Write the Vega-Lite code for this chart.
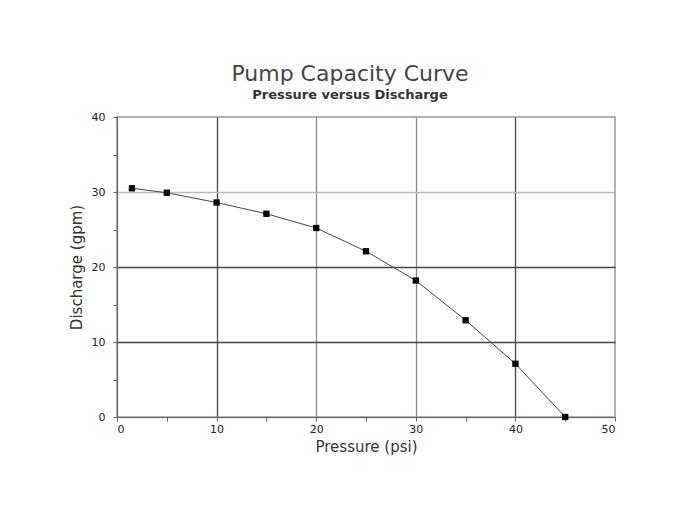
{
  "$schema": "https://vega.github.io/schema/vega-lite/v6.json",
  "autosize": "none",
  "width": 498,
  "height": 300,
  "padding": {"left": 117, "top": 117, "right": 71, "bottom": 99},
  "background": "white",
  "config": {
    "view": {"stroke": "#999", "strokeWidth": 1.5},
    "font": "DejaVu Sans"
  },
  "title": {
    "text": "Pump Capacity Curve",
    "subtitle": "Pressure versus Discharge",
    "anchor": "middle",
    "dx": -16,
    "offset": 8,
    "fontSize": 22,
    "fontWeight": "normal",
    "font": "DejaVu Sans",
    "color": "#444",
    "subtitleFontSize": 13,
    "subtitleFontWeight": "bold",
    "subtitleFont": "DejaVu Sans",
    "subtitleColor": "#333",
    "subtitlePadding": 3
  },
  "data": {
    "values": [
      {"pressure": 1.5, "discharge": 30.5},
      {"pressure": 5, "discharge": 29.9},
      {"pressure": 10, "discharge": 28.6},
      {"pressure": 15, "discharge": 27.1},
      {"pressure": 20, "discharge": 25.2},
      {"pressure": 25, "discharge": 22.1},
      {"pressure": 30, "discharge": 18.2},
      {"pressure": 35, "discharge": 12.9},
      {"pressure": 40, "discharge": 7.1},
      {"pressure": 45, "discharge": 0}
    ]
  },
  "encoding": {
    "x": {
      "field": "pressure",
      "type": "quantitative",
      "scale": {"domain": [0, 50], "nice": false},
      "axis": {
        "title": "Pressure (psi)",
        "values": [0, 5, 10, 15, 20, 25, 30, 35, 40, 45, 50],
        "labelExpr": "datum.value % 10 === 0 ? datum.label : ''",
        "grid": true,
        "gridColor": {"condition": {"test": "datum.value === 10 || datum.value === 40", "value": "#444"}, "value": "#888"},
        "gridOpacity": {"condition": {"test": "datum.value % 10 === 0 && datum.value < 50", "value": 1}, "value": 0},
        "gridWidth": 1.3,
        "domainColor": "#666",
        "tickColor": "#666",
        "tickSize": 4,
        "labelFontSize": 11,
        "labelColor": "#222",
        "labelPadding": 2,
        "titleFontSize": 15,
        "titleFontWeight": "normal",
        "titleColor": "#333",
        "titlePadding": 5
      }
    },
    "y": {
      "field": "discharge",
      "type": "quantitative",
      "scale": {"domain": [0, 40], "nice": false},
      "axis": {
        "title": "Discharge (gpm)",
        "values": [0, 5, 10, 15, 20, 25, 30, 35, 40],
        "labelExpr": "datum.value % 10 === 0 ? datum.label : ''",
        "grid": true,
        "gridColor": {"condition": {"test": "datum.value === 10 || datum.value === 20", "value": "#444"}, "value": "#bbb"},
        "gridOpacity": {"condition": {"test": "datum.value % 10 === 0 && datum.value < 40", "value": 1}, "value": 0},
        "gridWidth": 1.3,
        "domainColor": "#666",
        "tickColor": "#666",
        "tickSize": 4,
        "labelFontSize": 11,
        "labelColor": "#222",
        "labelPadding": 8,
        "titleFontSize": 15,
        "titleFontWeight": "normal",
        "titleColor": "#333",
        "titlePadding": 7
      }
    }
  },
  "layer": [
    {"mark": {"type": "line", "color": "#444", "strokeWidth": 1}},
    {"mark": {"type": "point", "shape": "square", "filled": true, "color": "#000", "size": 40, "opacity": 1}}
  ]
}
